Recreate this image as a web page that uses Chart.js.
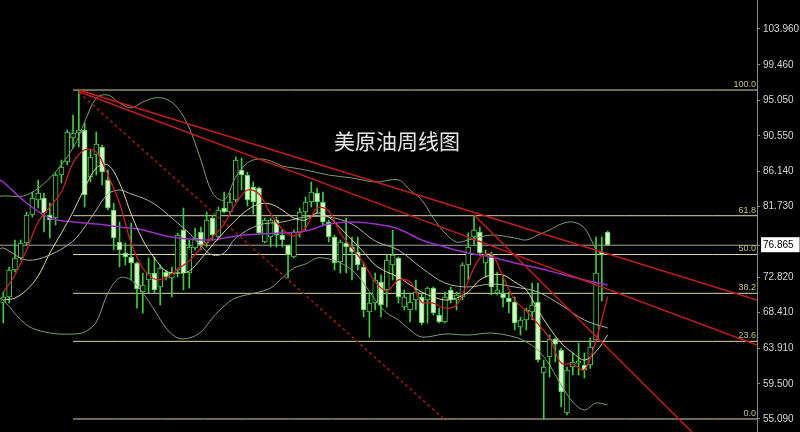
<!DOCTYPE html>
<html>
<head>
<meta charset="utf-8">
<script src="https://cdn.jsdelivr.net/npm/chart.js@4.4.0/dist/chart.umd.min.js"></script>
<style>
  html, body { margin: 0; padding: 0; background: #000; }
  #wrap { width: 800px; height: 432px; }
</style>
</head>
<body>
<div id="wrap"><canvas id="oilChart" width="800" height="432"></canvas></div>
<script>
// weekly candles, index 0..104
const opens  = [69.62,70.38,73.76,75.26,77.14,80.65,82.53,82.78,80.65,80.27,85.66,87.29,90.30,90.92,91.30,85.41,88.17,89.17,85.04,81.28,
                77.27,75.89,75.39,74.64,71.00,72.51,73.38,71.63,73.51,72.76,73.76,78.77,73.38,76.52,78.52,77.14,80.27,77.89,81.53,81.03,
                82.53,86.29,85.66,84.16,84.03,77.27,77.89,80.02,78.14,76.89,75.39,78.39,81.03,82.28,83.41,82.28,79.77,77.89,74.76,77.14,
                76.64,76.01,74.13,68.50,69.62,72.26,71.25,74.38,75.26,69.12,68.75,70.00,70.38,70.00,71.50,68.12,67.24,71.25,70.00,70.38,
                74.38,77.89,78.52,74.64,75.64,70.88,70.88,70.25,69.75,66.62,67.49,68.50,69.75,60.85,62.86,65.11,63.73,55.84,61.60,62.10,
                61.85,61.85,64.99,76.01,78.52];
const highs  = [71.00,74.13,77.52,77.52,81.03,83.53,85.04,83.41,82.15,85.91,87.54,91.30,93.18,96.31,92.18,88.80,91.05,89.42,86.29,82.15,
                79.77,77.14,79.65,74.76,73.38,75.26,75.39,74.38,73.76,74.13,78.39,81.53,77.52,79.02,79.15,81.03,80.65,81.65,83.53,83.41,
                87.92,87.79,86.04,84.79,84.16,80.27,80.27,80.40,78.77,76.89,78.77,81.53,82.90,84.79,84.03,83.53,80.02,78.14,77.52,80.27,
                77.89,77.89,74.64,70.88,73.38,73.13,75.64,78.77,75.39,71.25,70.88,72.51,70.88,71.63,71.63,68.99,71.00,71.63,71.00,74.64,
                78.39,80.65,79.15,76.26,76.01,73.51,73.13,71.00,70.38,67.87,68.99,72.13,72.13,62.48,65.61,65.24,63.98,61.60,63.36,64.61,
                63.36,65.24,77.89,77.89,78.64];
const lows   = [67.12,69.62,73.51,75.01,76.89,80.40,81.53,78.52,77.77,79.40,84.66,86.92,89.05,89.17,81.65,84.79,85.66,84.41,81.28,76.26,
                74.13,74.38,72.51,68.99,68.37,70.88,70.88,69.37,72.51,70.38,72.88,71.25,71.50,76.26,76.26,76.64,77.52,77.52,80.90,80.65,
                82.28,83.78,81.78,80.77,78.14,77.14,76.64,76.64,76.64,72.76,75.26,77.89,78.77,81.65,80.90,79.40,77.27,73.76,73.38,73.38,
                72.51,73.76,67.87,65.36,68.75,67.87,69.12,72.51,69.62,68.75,67.24,68.75,66.87,67.12,68.12,67.12,67.12,69.62,68.75,70.00,
                72.51,76.89,75.64,72.88,70.63,70.63,69.12,68.37,66.24,65.61,66.24,67.49,62.23,55.09,60.35,62.23,56.59,55.59,60.60,60.60,
                60.23,61.44,64.74,69.87,76.865];
const closes = [70.38,73.76,75.26,77.14,80.65,82.78,83.41,80.90,80.02,85.66,86.66,91.05,90.92,91.30,83.16,87.92,89.55,86.04,81.53,77.77,
                76.26,75.39,74.64,71.38,71.88,73.38,71.25,74.01,72.88,73.38,78.14,73.38,76.64,77.77,76.89,80.02,78.14,81.28,81.03,82.28,
                87.54,85.66,82.53,82.28,78.39,80.02,80.02,78.14,77.52,75.64,78.52,81.03,82.28,83.53,82.28,79.77,77.89,74.64,77.27,76.64,
                76.01,74.38,68.75,69.62,72.51,69.37,75.01,75.64,70.38,70.38,69.75,71.00,67.12,71.50,68.37,67.24,70.38,70.00,70.63,74.38,
                76.64,78.77,75.89,75.64,71.63,71.25,70.25,69.75,67.12,67.49,68.75,69.37,62.48,61.60,65.11,64.48,58.47,61.23,62.23,62.36,
                61.23,64.11,73.38,75.64,76.865];

// overlay lines as [candle index, price]
const maFast = [[0,71.00],[2,73.13],[4,76.26],[6,79.77],[8,81.65],[10,83.53],[12,87.17],[14,88.80],[16,88.55],[18,85.66],[20,82.15],
                [22,77.14],[24,74.01],[26,72.63],[28,72.76],[30,73.88],[32,74.89],[34,76.52],[36,77.89],[38,79.52],[40,82.03],[42,83.78],
                [44,83.28],[46,80.78],[48,78.90],[50,78.02],[52,79.02],[54,81.53],[56,81.15],[58,78.39],[60,76.52],[62,74.64],[64,72.26],
                [66,71.13],[68,72.51],[70,72.26],[72,69.75],[74,69.62],[76,68.99],[78,69.37],[80,72.38],[82,75.26],[84,75.76],[86,72.88],
                [88,70.00],[90,68.62],[92,67.00],[94,65.24],[96,62.10],[98,61.98],[100,61.23],[102,64.99],[104,70.38]];
const maSlow = [[0,70.00],[2,70.25],[4,71.25],[6,73.01],[8,75.89],[10,78.39],[12,81.03],[14,84.03],[16,86.54],[18,86.92],[20,84.66],
                [22,80.78],[24,77.52],[26,75.26],[28,73.63],[30,73.38],[32,73.63],[34,75.14],[36,76.89],[38,78.52],[40,80.02],[42,81.28],
                [44,82.03],[46,82.03],[48,81.28],[50,80.27],[52,80.02],[54,80.90],[56,80.40],[58,79.02],[60,77.52],[62,76.01],[64,74.39],
                [66,73.51],[68,72.88],[70,71.88],[72,71.00],[74,70.38],[76,70.00],[78,70.25],[80,71.00],[82,72.51],[84,73.13],[86,73.13],
                [88,72.26],[90,71.25],[92,68.75],[94,66.49],[96,64.61],[98,63.36],[100,62.48],[102,63.54],[104,65.62]];
const maLong = [[-0.6,85.04],[0,84.79],[4,82.15],[8,80.27],[12,79.77],[16,79.52],[20,79.15],[24,78.77],[28,78.02],[32,77.64],[36,77.52],
                [40,78.02],[44,78.27],[48,78.39],[52,78.65],[56,79.52],[60,79.77],[64,79.52],[68,78.90],[72,77.52],[76,76.64],[80,75.89],
                [84,75.39],[88,74.64],[92,74.01],[96,73.26],[100,72.51],[104,71.88]];
const bandUpper = [[-0.6,83.00],[0,83.03],[4,83.16],[8,85.29],[12,89.05],[14,92.30],[16,95.31],[18,95.69],[20,94.68],[22,94.06],[24,94.81],
                [26,95.31],[28,95.18],[30,94.06],[32,91.55],[34,87.54],[36,83.41],[38,82.53],[40,85.41],[42,87.17],[44,87.67],[46,87.42],
                [48,86.79],[50,86.54],[52,86.29],[56,85.66],[60,85.29],[64,84.79],[68,85.04],[70,83.78],[72,82.53],[74,80.27],[76,78.39],
                [78,77.27],[80,77.52],[84,78.14],[88,77.77],[90,77.52],[92,78.14],[94,78.77],[96,79.52],[98,79.77],[100,79.02],[102,76.26]];
const bandMid = [[-0.6,76.40],[0,76.52],[4,75.01],[8,75.64],[12,77.39],[14,79.15],[16,81.28],[18,83.28],[20,83.78],[22,83.28],[24,82.78],
                [26,82.03],[28,80.90],[30,79.65],[32,78.39],[34,76.77],[36,75.64],[38,75.89],[40,77.77],[44,79.40],[48,79.77],[52,80.40],
                [56,80.40],[60,79.52],[64,77.39],[68,76.26],[72,74.01],[76,72.13],[80,71.63],[84,72.01],[88,71.63],[92,71.00],[96,69.37],
                [100,67.49],[104,66.49]];
const bandLower = [[-0.6,70.20],[0,70.00],[4,66.87],[8,65.87],[12,65.74],[14,65.99],[16,67.24],[18,70.88],[20,72.76],[22,72.51],[24,70.88],
                [26,68.75],[28,66.49],[30,65.24],[32,65.24],[34,65.99],[36,67.74],[38,69.25],[40,70.25],[44,71.00],[46,71.50],[48,72.76],
                [50,74.01],[52,74.51],[54,75.26],[56,75.14],[58,74.64],[60,73.76],[62,72.13],[64,70.00],[66,68.37],[68,67.49],[70,66.24],
                [72,65.36],[76,65.74],[80,65.61],[84,65.86],[88,65.36],[90,64.74],[92,63.73],[94,61.85],[96,59.35],[98,57.22],[100,56.22],
                [102,57.09],[104,56.84]];

// drawn trend lines, [candle index, price]
const trendA = [[13, 96.31], [129.7, 70.00]];
const trendB = [[13, 96.10], [129.7, 64.36]];
const trendC = [[13, 96.00], [76.0, 54.97]];
const trendD = [[81, 80.65], [118.5, 53.46]];

const fibHigh = 96.31;
const fibLow = 55.09;
const fibPercents = [0, 23.6, 38.2, 50.0, 61.8, 100.0];
const fibStart = 12;

const yTicks = [55.090, 59.500, 63.910, 68.410, 72.820, 81.730, 86.140, 90.550, 95.050, 99.460, 103.960];
const lastPrice = 76.865;
const chartTitle = '美原油周线图';

const xMin = -0.57, xMax = 129.7;

function pts(list) {
    return list.map(p => ({ x: p[0], y: p[1] }));
}

function lineSet(list, color, width, order, dash) {
    return {
        type: 'line',
        data: pts(list),
        borderColor: color,
        borderWidth: width,
        borderDash: dash || [],
        pointRadius: 0,
        tension: 0.35,
        fill: false,
        order: order
    };
}

const datasets = [];

// fibonacci levels and current price line
fibPercents.forEach(p => {
    const v = fibLow + (fibHigh - fibLow) * p / 100;
    datasets.push(lineSet([[fibStart, v], [xMax, v]], '#d8d6a0', 1, 30));
});
datasets.push(lineSet([[xMin, lastPrice], [xMax, lastPrice]], '#a4a4a4', 1, 30));

// candles
datasets.push({
    type: 'bar',
    data: lows.map((l, i) => ({ x: i, y: [l, highs[i]] })),
    backgroundColor: '#40cc40',
    barThickness: 1,
    grouped: false,
    order: 25
});
datasets.push({
    type: 'bar',
    data: opens.map((o, i) => ({ x: i, y: [o, closes[i]] })),
    backgroundColor: ctx => closes[ctx.dataIndex] >= opens[ctx.dataIndex] ? '#000000' : '#daf6ca',
    borderColor: '#46d046',
    borderWidth: 1,
    borderSkipped: false,
    barThickness: 5,
    minBarLength: 2,
    grouped: false,
    order: 24
});

// indicators
datasets.push(lineSet(bandUpper, '#7f9c70', 1, 10));
datasets.push(lineSet(bandLower, '#7f9c70', 1, 10));
datasets.push(lineSet(bandMid, '#a9b0a0', 1, 9));
datasets.push(lineSet(maLong, '#9a30c8', 1.5, 8));
datasets.push(lineSet(maSlow, '#dcd894', 1, 7));
datasets.push(lineSet(maFast, '#c81e1e', 1.3, 6));

// trend lines
datasets.push(lineSet(trendA, '#c41c1c', 1.5, 5));
datasets.push(lineSet(trendB, '#c41c1c', 1.5, 5));
datasets.push(lineSet(trendC, '#9c1a1a', 1.5, 5, [3, 3]));
datasets.push(lineSet(trendD, '#c41c1c', 1.5, 5));

const textPlugin = {
    id: 'textPlugin',
    afterDatasetsDraw(chart) {
        const { ctx } = chart;
        const x = chart.scales.x;
        const y = chart.scales.y;
        ctx.save();
        ctx.font = '9px "Liberation Sans", sans-serif';
        ctx.fillStyle = '#cac27c';
        ctx.textAlign = 'right';
        ctx.textBaseline = 'bottom';
        fibPercents.forEach(p => {
            const v = fibLow + (fibHigh - fibLow) * p / 100;
            ctx.fillText(p.toFixed(1), x.right - 1, y.getPixelForValue(v) - 1);
        });
        ctx.font = '21px "Noto Sans CJK SC"';
        ctx.fillStyle = '#e6e6e6';
        ctx.textAlign = 'center';
        ctx.textBaseline = 'middle';
        ctx.fillText(chartTitle, 397, 141);
        ctx.restore();
    }
};

new Chart(document.getElementById('oilChart'), {
    type: 'bar',
    data: { datasets: datasets },
    options: {
        responsive: false,
        devicePixelRatio: 1,
        animation: false,
        layout: { padding: 0 },
        plugins: {
            legend: { display: false },
            tooltip: { enabled: false }
        },
        scales: {
            x: {
                type: 'linear',
                min: xMin,
                max: xMax,
                offset: false,
                display: false
            },
            y: {
                position: 'right',
                min: 53.46,
                max: 107.59,
                afterBuildTicks: s => {
                    s.ticks = yTicks.concat([lastPrice]).sort((a, b) => a - b).map(v => ({ value: v }));
                },
                afterFit: s => {
                    s.width = 43;
                    s.paddingTop = 0;
                    s.paddingBottom = 0;
                },
                border: { color: '#8c8c8c' },
                grid: { drawOnChartArea: false, drawTicks: true, tickLength: 3, color: '#8c8c8c' },
                ticks: {
                    autoSkip: false,
                    padding: 3,
                    callback: v => Number(v).toFixed(3),
                    color: c => c.tick && c.tick.value === lastPrice ? '#000000' : '#d6d6d6',
                    font: { family: 'Liberation Sans', size: 10 },
                    showLabelBackdrop: c => !!(c.tick && c.tick.value === lastPrice),
                    backdropColor: '#ffffff',
                    backdropPadding: { top: 2, bottom: 1, left: 2, right: 6 }
                }
            }
        }
    },
    plugins: [textPlugin]
});
</script>
</body>
</html>
